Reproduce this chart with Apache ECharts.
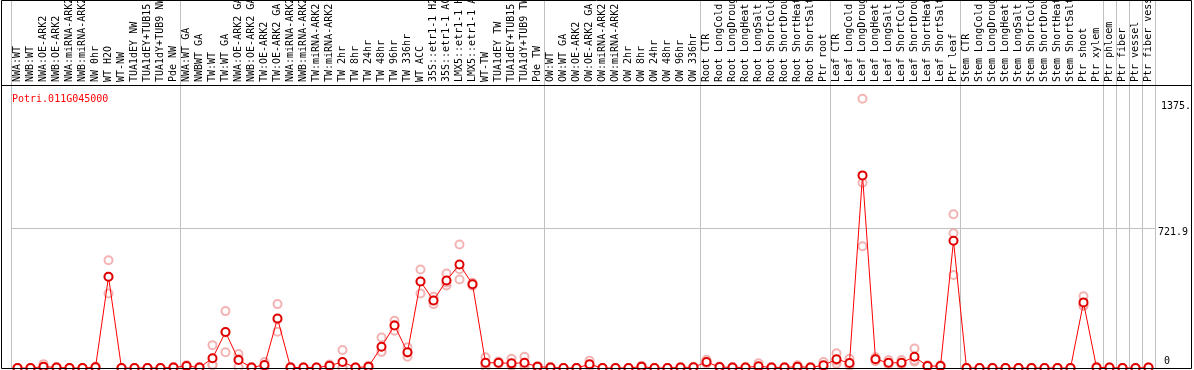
<!DOCTYPE html>
<html>
<head>
<meta charset="utf-8">
<script src="https://cdn.jsdelivr.net/npm/echarts@6/dist/echarts.min.js"></script>
<style>
html, body { margin: 0; padding: 0; background: #fff; }
#main { width: 1194px; height: 370px; }
</style>
</head>
<body>
<div id="main"></div>
<script>
// 初始化图表
var chart = echarts.init(document.getElementById('main'));

var geneId = 'Potri.011G045000';

var samples = [
  'NWA:WT', 'NWB:WT', 'NWA:OE-ARK2', 'NWB:OE-ARK2', 'NWA:miRNA-ARK2', 'NWB:miRNA-ARK2',
  'NW 0hr', 'WT H2O', 'WT-NW', 'TUA1dEY NW', 'TUA1dEY+TUB15 NW', 'TUA1dY+TUB9 NW', 'Pde NW',
  'NWA:WT GA', 'NWBWT GA', 'TW:WT', 'TW:WT GA', 'NWA:OE-ARK2 GA', 'NWB:OE-ARK2 GA',
  'TW:OE-ARK2', 'TW:OE-ARK2 GA', 'NWA:miRNA-ARK2 GA', 'NWB:miRNA-ARK2 GA', 'TW:miRNA-ARK2',
  'TW:miRNA-ARK2', 'TW 2hr', 'TW 8hr', 'TW 24hr', 'TW 48hr', 'TW 96hr', 'TW 336hr', 'WT ACC',
  '35S::etr1-1 H2O', '35S::etr1-1 ACC', 'LMX5::etr1-1 H2O', 'LMX5::etr1-1 ACC', 'WT-TW',
  'TUA1dEY TW', 'TUA1dEY+TUB15 TW', 'TUA1dY+TUB9 TW', 'Pde TW',
  'OW:WT', 'OW:WT GA', 'OW:OE-ARK2', 'OW:OE-ARK2 GA', 'OW:miRNA-ARK2', 'OW:miRNA-ARK2',
  'OW 2hr', 'OW 8hr', 'OW 24hr', 'OW 48hr', 'OW 96hr', 'OW 336hr',
  'Root CTR', 'Root LongCold', 'Root LongDrought', 'Root LongHeat', 'Root LongSalt',
  'Root ShortCold', 'Root ShortDrought', 'Root ShortHeat', 'Root ShortSalt', 'Ptr root',
  'Leaf CTR', 'Leaf LongCold', 'Leaf LongDrought', 'Leaf LongHeat', 'Leaf LongSalt',
  'Leaf ShortCold', 'Leaf ShortDrought', 'Leaf ShortHeat', 'Leaf ShortSalt', 'Ptr leaf',
  'Stem CTR', 'Stem LongCold', 'Stem LongDrought', 'Stem LongHeat', 'Stem LongSalt',
  'Stem ShortCold', 'Stem ShortDrought', 'Stem ShortHeat', 'Stem ShortSalt', 'Ptr shoot',
  'Ptr xylem', 'Ptr phloem', 'Ptr fiber', 'Ptr vessel', 'Ptr fiber vessel'
];

// 平均表达量
var meanExpr = [
  0, 0, 7, 3, 0, 0, 4, 471, 0, 0, 0, 0, 3,
  10, 3, 50, 186, 41, 3, 15, 256, 3, 2, 2, 12, 31, 2, 7, 110, 220, 81, 447, 349, 452, 535, 433, 27, 27, 24, 27, 7,
  3, 0, 0, 19, 0, 0, 0, 7, 0, 0, 3, 4,
  31, 5, 3, 3, 9, 3, 3, 7, 3, 14,
  45, 26, 995, 45, 27, 27, 58, 10, 10, 657,
  0, 0, 0, 0, 0, 0, 0, 0, 0, 339,
  3, 2, 0, 0, 2
];

// 三个重复
var rep1 = [
  0, 0, 20, 5, 0, 0, 8, 557, 0, 0, 0, 0, 5,
  14, 5, 118, 294, 72, 5, 31, 330, 5, 4, 4, 18, 93, 4, 12, 158, 244, 107, 509, 368, 488, 638, 440, 55, 33, 48, 58, 10,
  5, 0, 0, 38, 0, 0, 0, 12, 0, 0, 5, 6,
  43, 8, 5, 5, 24, 5, 5, 14, 5, 31,
  76, 48, 1391, 55, 41, 41, 101, 14, 14, 794,
  0, 0, 0, 0, 0, 0, 0, 0, 0, 371,
  6, 4, 0, 0, 4
];
var rep2 = [
  0, 0, 0, 0, 0, 0, 0, 385, 0, 0, 0, 0, 0,
  6, 0, 15, 81, 5, 0, 5, 187, 0, 0, 0, 6, 0, 0, 3, 89, 192, 58, 385, 330, 426, 457, 425, 5, 22, 10, 5, 4,
  0, 0, 0, 8, 0, 0, 0, 3, 0, 0, 0, 2,
  22, 2, 0, 0, 0, 0, 0, 2, 0, 5,
  22, 12, 629, 35, 18, 18, 33, 6, 6, 480,
  0, 0, 0, 0, 0, 0, 0, 0, 0, 320,
  0, 0, 0, 0, 0
];
var rep3 = [
  0, 0, 2, 4, 0, 0, 4, 471, 0, 0, 0, 0, 4,
  10, 4, 17, 183, 46, 4, 9, 251, 4, 2, 2, 12, 0, 2, 6, 83, 224, 78, 447, 349, 442, 510, 434, 21, 26, 14, 18, 7,
  4, 0, 0, 11, 0, 0, 0, 6, 0, 0, 4, 4,
  28, 5, 4, 4, 3, 4, 4, 5, 4, 6,
  37, 18, 957, 45, 22, 22, 40, 10, 10, 696,
  0, 0, 0, 0, 0, 0, 0, 0, 0, 326,
  3, 2, 0, 0, 2
];

// 分组分隔线所在的样本序号
var groupStarts = [0, 13, 41, 53, 63, 73, 84, 85, 86, 87];
var yLabelValues = [0, 721.9, 1375];
var yGridValues = [0, 721.9];
var yMax = 1462;

var monoFont = 'DejaVu Sans Mono';

function toPoints(arr) {
  return arr.map(function (v, i) { return [i, v]; });
}

function isGroupStart(idx) {
  return groupStarts.indexOf(idx) >= 0;
}

var repStyle = {
  type: 'scatter',
  xAxisIndex: 1,
  yAxisIndex: 1,
  symbol: 'emptyCircle',
  symbolSize: 8,
  itemStyle: { color: '#f0a0a0', borderWidth: 1.2 },
  z: 2,
  silent: true
};

option = {
  animation: false,
  title: {
    text: geneId,
    left: 7,
    top: 89,
    textStyle: { color: '#ff0000', fontSize: 10, fontWeight: 'normal', fontFamily: monoFont }
  },
  grid: [
    { left: 11, right: 39, top: 0, height: 85, outerBoundsMode: 'none', containLabel: false },
    { left: 11, right: 39, top: 85, bottom: 2, outerBoundsMode: 'none', containLabel: false }
  ],
  xAxis: [{
    gridIndex: 0,
    type: 'category',
    data: samples,
    axisLine: { show: false },
    axisTick: { show: false },
    axisLabel: { show: false },
    splitLine: { show: true, interval: isGroupStart, lineStyle: { color: '#c0c0c0', width: 1 } }
  }, {
    gridIndex: 1,
    type: 'category',
    data: samples,
    position: 'top',
    axisLine: { show: false },
    axisTick: { show: false },
    axisLabel: {
      interval: 0,
      rotate: 90,
      margin: 3,
      hideOverlap: false,
      color: '#000',
      fontSize: 10,
      fontFamily: monoFont
    },
    splitLine: { show: true, interval: isGroupStart, lineStyle: { color: '#c0c0c0', width: 1 } }
  }],
  yAxis: [{
    gridIndex: 0,
    type: 'value',
    show: false
  }, {
    gridIndex: 1,
    type: 'value',
    position: 'right',
    min: 0,
    max: yMax,
    axisLine: { show: false },
    axisTick: { show: false, customValues: yGridValues },
    splitLine: { show: true, lineStyle: { color: '#c0c0c0', width: 1 } },
    axisLabel: {
      customValues: yLabelValues,
      margin: 2,
      fontSize: 10,
      fontFamily: monoFont,
      color: '#000',
      formatter: function (v) {
        if (v === 0) return '{z|0}';
        if (v === 1375) return '{t|1375.}';
        return '{m|' + v + '}';
      },
      rich: {
        z: { fontSize: 10, fontFamily: monoFont, padding: [0, 0, 14, 7] },
        m: { fontSize: 10, fontFamily: monoFont, padding: [8, 0, 0, 1] },
        t: { fontSize: 10, fontFamily: monoFont, padding: [10, 0, 0, 4] }
      }
    }
  }],
  graphic: [{
    type: 'rect',
    shape: { x: 1.5, y: 0.5, width: 1190, height: 368 },
    style: { fill: 'none', stroke: '#000', lineWidth: 1 },
    z: 100,
    silent: true
  }, {
    type: 'line',
    shape: { x1: 1, y1: 85.5, x2: 1192, y2: 85.5 },
    style: { stroke: '#000', lineWidth: 1 },
    z: 100,
    silent: true
  }],
  series: [
    Object.assign({ name: 'rep1', data: toPoints(rep1) }, repStyle),
    Object.assign({ name: 'rep2', data: toPoints(rep2) }, repStyle),
    Object.assign({ name: 'rep3', data: toPoints(rep3) }, repStyle),
    {
      name: 'mean',
      type: 'line',
      xAxisIndex: 1,
      yAxisIndex: 1,
      data: meanExpr,
      symbol: 'emptyCircle',
      symbolSize: 8,
      showAllSymbol: true,
      lineStyle: { color: '#ff0000', width: 1 },
      itemStyle: { color: '#e00000', borderWidth: 1.5 },
      z: 3,
      silent: true
    }
  ]
};

chart.setOption(option);
</script>
</body>
</html>
